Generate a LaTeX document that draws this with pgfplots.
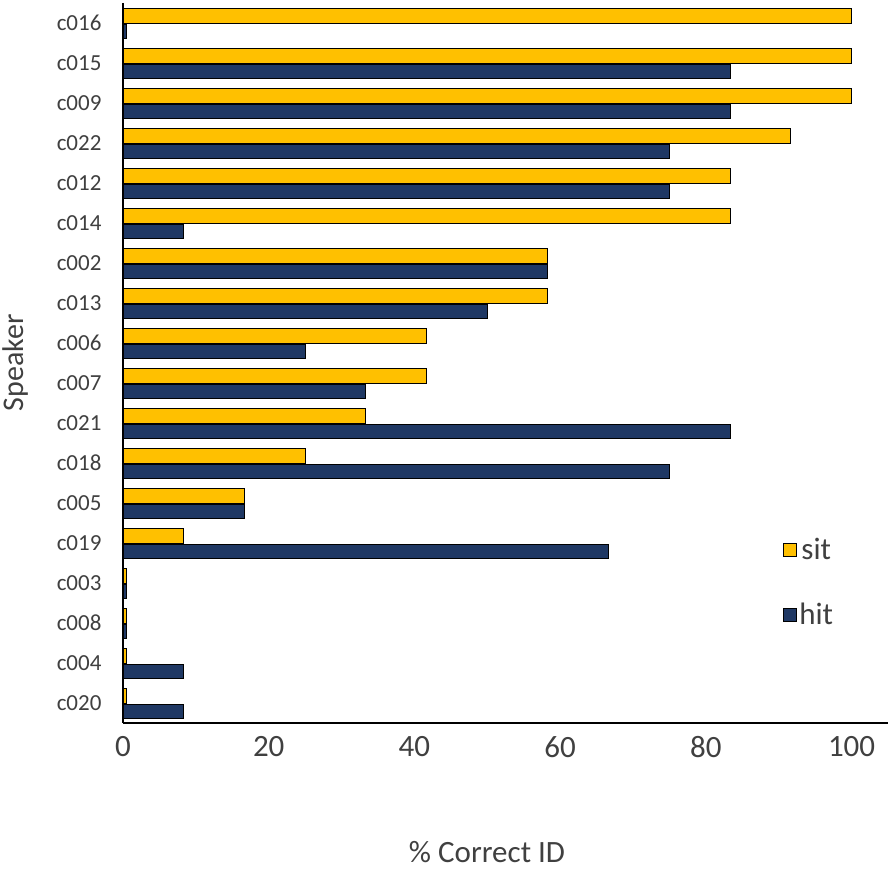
\documentclass[border=0pt]{standalone}
\usepackage{pgfplots}
\pgfplotsset{compat=1.18}
\usepackage{fontspec}
\setmainfont{Carlito}
\definecolor{sitc}{HTML}{FFC000}
\definecolor{hitc}{HTML}{1F3864}
\definecolor{txt}{HTML}{404040}
\begin{document}
\begin{tikzpicture}
\begin{axis}[
  scale only axis, width=765pt, height=720pt,
  xbar, bar width=14.5pt,
  xmin=0, xmax=105, ymin=-0.5, ymax=17.5,
  y dir=reverse,
  ytick={0,...,17},
  yticklabels={c016,c015,c009,c022,c012,c014,c002,c013,c006,c007,c021,c018,c005,c019,c003,c008,c004,c020},
  xtick={0,20,40,60,80,100},
  axis x line=bottom, axis y line=left,
  axis line style={-, black, line width=1.2pt},
  major tick length=0pt,
  /pgf/number format/assume math mode=true,
  yticklabel style={font=\fontsize{23}{23}\selectfont, text=txt, xshift=-18pt},
  xticklabel style={font=\fontsize{31}{31}\selectfont, text=txt, yshift=-10pt},
  every axis plot/.append style={draw=black, line width=1pt},
  legend style={draw=none, fill=none, at={(0.859,0.262)}, anchor=north west,
    font=\fontsize{31}{31}\selectfont, text=txt, row sep=38pt,
    /tikz/every even column/.append style={column sep=4pt}},
  legend image code/.code={\draw[#1, line width=1pt] (0pt,-6.5pt) rectangle (13pt,6.5pt);},
  clip=false,
]
\addplot[fill=sitc, bar shift=7pt] coordinates {
(100,0) (100,1) (100,2) (91.67,3) (83.33,4) (83.33,5) (58.33,6) (58.33,7) (41.67,8) (41.67,9)
(33.33,10) (25,11) (16.67,12) (8.33,13) (0.5,14) (0.5,15) (0.5,16) (0.5,17)};
\addplot[fill=hitc, bar shift=-8.5pt] coordinates {
(0.5,0) (83.33,1) (83.33,2) (75,3) (75,4) (8.33,5) (58.33,6) (50,7) (25,8) (33.33,9)
(83.33,10) (75,11) (16.67,12) (66.67,13) (0.5,14) (0.5,15) (8.33,16) (8.33,17)};
\legend{sit,hit}
\end{axis}
\node[font=\fontsize{31}{31}\selectfont, text=txt, anchor=base] at ([xshift=364pt,yshift=-139pt]current axis.south west) {\% Correct ID};
\node[font=\fontsize{30}{30}\selectfont, text=txt, rotate=90, anchor=center] at ([xshift=-107pt,yshift=360pt]current axis.south west) {Speaker};
\pgfresetboundingbox
\useasboundingbox ([xshift=-123pt,yshift=-146pt]current axis.south west) rectangle ++(893pt,869pt);
\end{tikzpicture}
\end{document}
